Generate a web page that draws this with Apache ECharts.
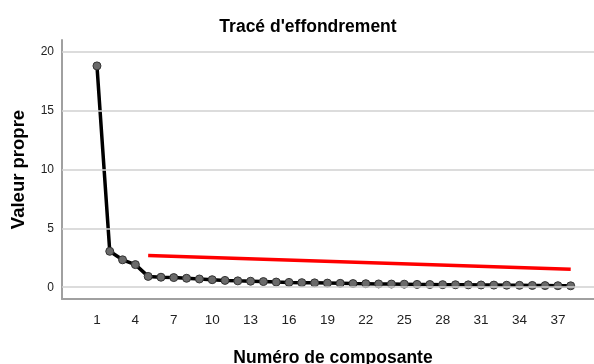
<!DOCTYPE html>
<html>
<head>
<meta charset="utf-8">
<script src="https://cdn.jsdelivr.net/npm/echarts@6/dist/echarts.min.js"></script>
<style>html,body{margin:0;padding:0;background:#fff}#c{width:594px;height:364px}</style>
</head>
<body>
<div id="c"></div>
<script>
const components = Array.from({length: 38}, (_, i) => i + 1);
const eigenvalues = [18.8, 3.05, 2.33, 1.92, 0.92, 0.85, 0.82, 0.76, 0.70, 0.64,
  0.58, 0.54, 0.51, 0.48, 0.44, 0.41, 0.39, 0.37, 0.35, 0.33,
  0.31, 0.30, 0.28, 0.27, 0.26, 0.24, 0.23, 0.22, 0.21, 0.20,
  0.19, 0.18, 0.17, 0.16, 0.15, 0.14, 0.13, 0.12];
const refLineX = [5, 38];
const refLineY = [2.7, 1.53];
const xTickLabels = [1, 4, 7, 10, 13, 16, 19, 22, 25, 28, 31, 34, 37];
const yTickLabels = [0, 5, 10, 15, 20];

const chart = echarts.init(document.getElementById('c'), null, {renderer: 'canvas'});
const font = 'Liberation Sans, Arial, sans-serif';
chart.setOption({
  animation: false,
  backgroundColor: '#fff',
  title: {
    text: "Tracé d'effondrement",
    left: 303, top: 13, textAlign: 'center',
    textStyle: {fontFamily: font, fontSize: 17.5, fontWeight: 'bold', color: '#000'}
  },
  grid: {left: 62, right: 0, top: 40, bottom: 65, containLabel: false, outerBoundsMode: 'none'},
  xAxis: {
    type: 'value', min: -1.73, max: 39.82,
    name: 'Numéro de composante', nameLocation: 'middle', nameGap: 50,
    nameTextStyle: {fontFamily: font, fontSize: 17.5, fontWeight: 'bold', color: '#000', padding: [0, 0, 0, 10]},
    axisLine: {show: true, onZero: false, lineStyle: {color: '#a0a0a0', width: 2}},
    axisTick: {show: false},
    splitLine: {show: false},
    axisLabel: {customValues: xTickLabels, fontFamily: font, fontSize: 13.5, color: '#222', margin: 14}
  },
  yAxis: {
    type: 'value', min: -1, max: 21,
    name: 'Valeur propre', nameLocation: 'middle', nameGap: 34, nameRotate: 90,
    nameTextStyle: {fontFamily: font, fontSize: 18.5, fontWeight: 'bold', color: '#000'},
    axisLine: {show: true, onZero: false, lineStyle: {color: '#a0a0a0', width: 2}},
    axisTick: {show: false},
    splitLine: {show: false},
    axisLabel: {customValues: yTickLabels, fontFamily: font, fontSize: 12, color: '#222', margin: 8}
  },
  series: [
    {
      type: 'line',
      data: [],
      silent: true,
      markLine: {
        silent: true, symbol: 'none', label: {show: false},
        lineStyle: {color: '#d0d0d0', width: 1.5, type: 'solid'},
        data: yTickLabels.map(v => ({yAxis: v}))
      }
    },
    {
      type: 'line',
      data: refLineX.map((x, i) => [x, refLineY[i]]),
      showSymbol: false,
      lineStyle: {color: '#ff0000', width: 3.5},
      z: 3
    },
    {
      type: 'line',
      data: components.map((c, i) => [c, eigenvalues[i]]),
      symbol: 'circle', symbolSize: 8,
      lineStyle: {color: '#000', width: 3.5},
      itemStyle: {color: '#6a6a6a', borderColor: '#333', borderWidth: 1},
      z: 4
    }
  ]
});
</script>
</body>
</html>
